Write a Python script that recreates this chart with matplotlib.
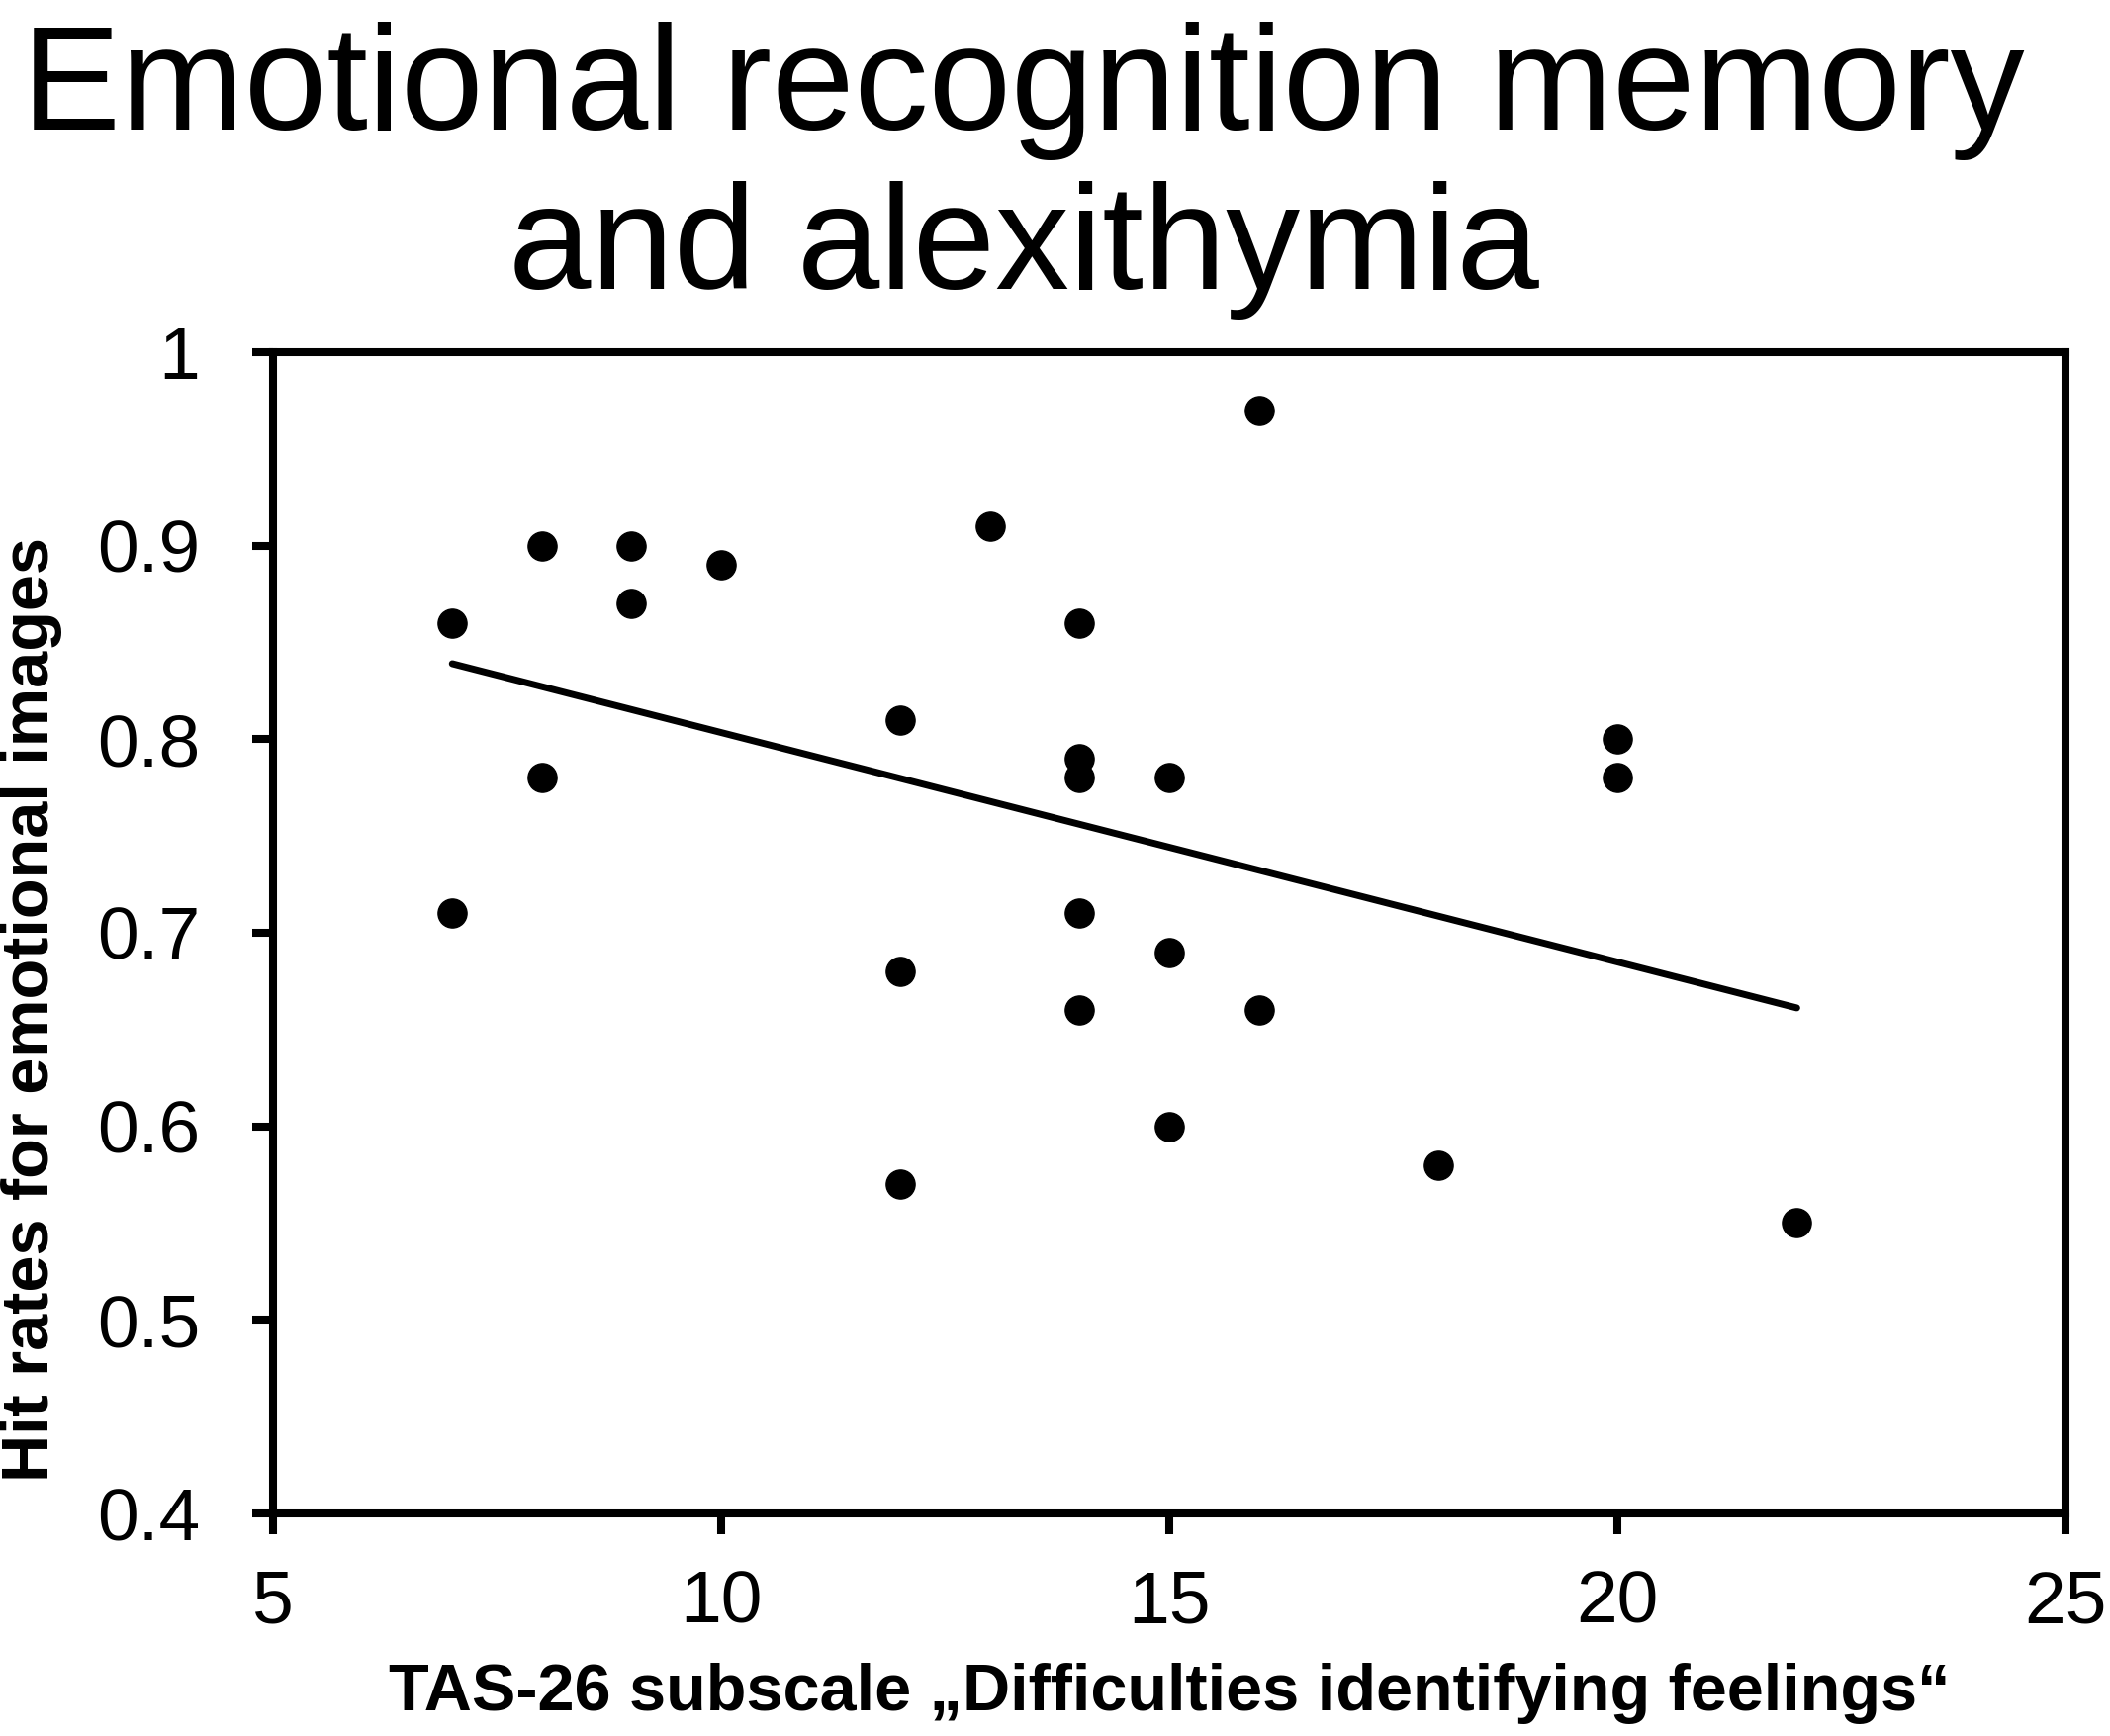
import numpy as np
import matplotlib
matplotlib.use("Agg")
import matplotlib.pyplot as plt
from matplotlib.ticker import FuncFormatter

plt.rcParams['font.family'] = ['Liberation Sans', 'DejaVu Sans']

# TAS-26 "difficulties identifying feelings" score vs hit rate
tas_score = [7, 7, 8, 8, 9, 9, 10, 12, 12, 12, 13, 14, 14, 14, 14, 14,
             15, 15, 15, 16, 16, 18, 20, 20, 22]
hit_rate = [0.86, 0.71, 0.90, 0.78, 0.90, 0.87, 0.89, 0.81, 0.68, 0.57, 0.91,
            0.86, 0.79, 0.78, 0.71, 0.66, 0.78, 0.69, 0.60, 0.97, 0.66, 0.58,
            0.80, 0.78, 0.55]
x_ticks = [5, 10, 15, 20, 25]
y_ticks = [0.4, 0.5, 0.6, 0.7, 0.8, 0.9, 1.0]

x = np.array(tas_score, dtype=float)
y = np.array(hit_rate)
slope, intercept = np.polyfit(x, y, 1)
x_fit = np.array([x.min(), x.max()])
y_fit = slope * x_fit + intercept

fig = plt.figure(figsize=(21.33, 17.55), dpi=100)
ax = fig.add_axes([0.1294, 0.1282, 0.979 - 0.1294, 0.7972 - 0.1282])

ax.plot(x_fit, y_fit, color='black', lw=5.0, solid_capstyle='round', zorder=2)
ax.plot(x, y, linestyle='none', marker='o', markersize=21,
        color='black', zorder=3)

ax.set_xlim(5, 25)
ax.set_ylim(0.4, 1.0)
ax.set_xticks(x_ticks)
ax.set_yticks(y_ticks)
ax.yaxis.set_major_formatter(FuncFormatter(lambda v, p: f"{v:g}"))

for s in ax.spines.values():
    s.set_linewidth(5.8)
ax.tick_params(axis='both', direction='out', length=15, width=5.8,
               labelsize=54)
ax.tick_params(axis='y', pad=38)
ax.tick_params(axis='x', pad=26)

ax.set_xlabel('TAS-26 subscale \u201eDifficulties identifying feelings\u201c',
              fontsize=48, fontweight='bold', labelpad=18)
fig.text(0.015, 1 - 1020 / 1755, 'Hit rates for emotional images',
         rotation=90, fontsize=48, fontweight='bold',
         ha='center', va='center')

fig.text(0.485, 1 - 292 / 1755, 'Emotional recognition memory\nand alexithymia',
         fontsize=108, ha='center', va='baseline', linespacing=1.19)

fig.savefig('out.png', dpi=100)
